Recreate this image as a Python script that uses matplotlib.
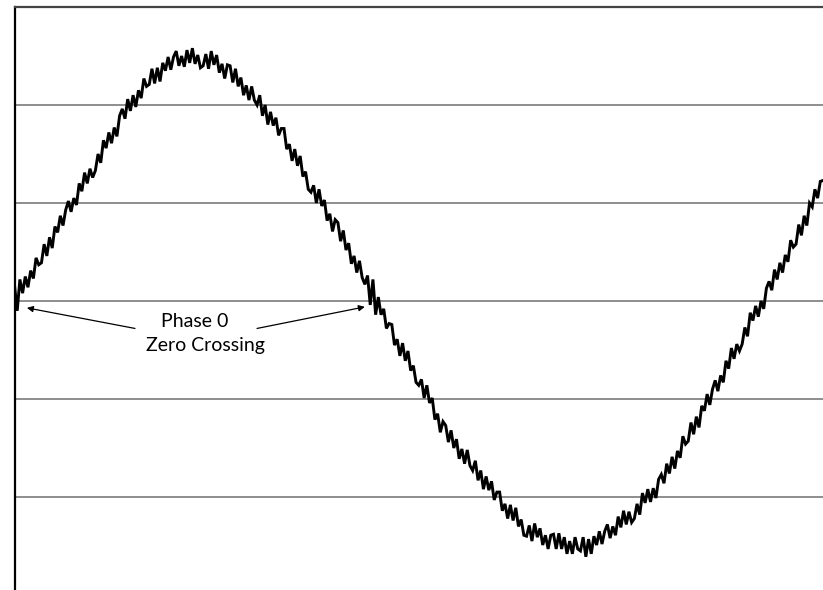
import numpy as np
import matplotlib; matplotlib.use("Agg"); import matplotlib.pyplot as plt

# noisy sine trace (grid units, 1 unit = one grid division)
signal = [
    0.16, -0.10, 0.22, 0.08, 0.25, 0.14, 0.31, 0.23, 0.44, 0.37,
    0.39, 0.58, 0.46, 0.65, 0.54, 0.76, 0.70, 0.87, 0.77, 0.93,
    1.02, 0.91, 1.05, 0.98, 1.20, 1.12, 1.31, 1.20, 1.35, 1.26,
    1.33, 1.50, 1.41, 1.64, 1.56, 1.72, 1.61, 1.77, 1.68, 1.89,
    1.96, 1.86, 2.06, 1.94, 2.10, 1.98, 2.15, 2.07, 2.27, 2.19,
    2.21, 2.37, 2.22, 2.38, 2.24, 2.43, 2.35, 2.49, 2.36, 2.49,
    2.55, 2.40, 2.50, 2.39, 2.56, 2.43, 2.58, 2.42, 2.51, 2.38,
    2.40, 2.52, 2.37, 2.55, 2.41, 2.51, 2.33, 2.42, 2.27, 2.41,
    2.40, 2.23, 2.37, 2.19, 2.28, 2.10, 2.20, 2.05, 2.19, 2.05,
    2.00, 2.10, 1.89, 2.00, 1.80, 1.93, 1.79, 1.87, 1.69, 1.76,
    1.76, 1.55, 1.60, 1.43, 1.55, 1.38, 1.48, 1.27, 1.32, 1.14,
    1.11, 1.18, 1.00, 1.14, 0.97, 1.03, 0.82, 0.89, 0.71, 0.83,
    0.80, 0.61, 0.72, 0.52, 0.59, 0.38, 0.46, 0.29, 0.41, 0.24,
    0.17, 0.26, -0.04, 0.22, -0.14, 0.04, -0.14, -0.08, -0.28, -0.23,
    -0.24, -0.45, -0.39, -0.56, -0.43, -0.61, -0.51, -0.71, -0.66, -0.83,
    -0.86, -0.80, -0.99, -0.86, -1.04, -0.99, -1.21, -1.15, -1.34, -1.23,
    -1.27, -1.44, -1.32, -1.50, -1.41, -1.61, -1.51, -1.66, -1.52, -1.68,
    -1.73, -1.63, -1.83, -1.73, -1.92, -1.79, -1.93, -1.84, -2.03, -1.95,
    -1.95, -2.14, -2.07, -2.22, -2.08, -2.24, -2.11, -2.30, -2.23, -2.39,
    -2.40, -2.29, -2.45, -2.27, -2.41, -2.32, -2.49, -2.39, -2.53, -2.39,
    -2.38, -2.53, -2.37, -2.53, -2.41, -2.58, -2.45, -2.58, -2.41, -2.53,
    -2.55, -2.41, -2.61, -2.43, -2.58, -2.40, -2.49, -2.35, -2.48, -2.35,
    -2.28, -2.42, -2.30, -2.39, -2.20, -2.31, -2.14, -2.28, -2.15, -2.26,
    -2.22, -2.07, -2.18, -1.96, -2.06, -1.92, -2.05, -1.91, -2.01, -1.82,
    -1.77, -1.86, -1.66, -1.76, -1.59, -1.71, -1.53, -1.60, -1.38, -1.46,
    -1.43, -1.24, -1.36, -1.18, -1.29, -1.07, -1.12, -0.95, -1.06, -0.90,
    -0.81, -0.92, -0.76, -0.83, -0.61, -0.69, -0.48, -0.59, -0.44, -0.51,
    -0.44, -0.27, -0.36, -0.12, -0.20, -0.05, -0.16, 0.00, -0.08, 0.13,
    0.20, 0.11, 0.32, 0.22, 0.39, 0.29, 0.47, 0.40, 0.62, 0.55,
    0.58, 0.78, 0.67, 0.87, 0.77, 1.00, 0.96, 1.14, 1.05, 1.22,
    1.23,
]
grid_levels = [2, 1, 0, -1, -2]
label_lines = ["Phase 0", "Zero Crossing"]
crossings = [4.6, 130.0]   # sample index of the two marked zero crossings

t = np.arange(len(signal))
W, H = 823, 590
fig = plt.figure(figsize=(W/100, H/100), dpi=100)
ax = fig.add_axes([14.5/W, 0, 1-14.5/W, (H-7)/H])
for g in grid_levels: ax.axhline(g, color="#7a7a7a", lw=1.2, zorder=1)
ax.plot(t, signal, color="black", lw=2.1, solid_joinstyle="miter", zorder=3)
ax.set_xlim(0, len(signal)-1); ax.set_ylim(-2.949, 3.0)
ax.set_xticks([]); ax.set_yticks([])
for s in ["right", "bottom"]: ax.spines[s].set_visible(False)
ax.spines["left"].set_linewidth(1.6); ax.spines["left"].set_color("black")
ax.spines["top"].set_linewidth(1.6); ax.spines["top"].set_color("#444444")

# annotation: two arrows from the label to the zero crossings
ap = dict(arrowstyle="-|>", lw=0.9, color="black", mutation_scale=9, shrinkA=0, shrinkB=0)
ax.annotate("", xy=(crossings[0], -0.07), xytext=(44.7, -0.28), arrowprops=ap, zorder=4)
ax.annotate("", xy=(crossings[1], -0.06), xytext=(90.0, -0.28), arrowprops=ap, zorder=4)
ax.text(67.0, -0.21, label_lines[0], ha="center", va="center", fontsize=14, family="Lato")
ax.text(71.0, -0.455, label_lines[1], ha="center", va="center", fontsize=14, family="Lato")

fig.savefig("out.png", dpi=100, facecolor="white")
